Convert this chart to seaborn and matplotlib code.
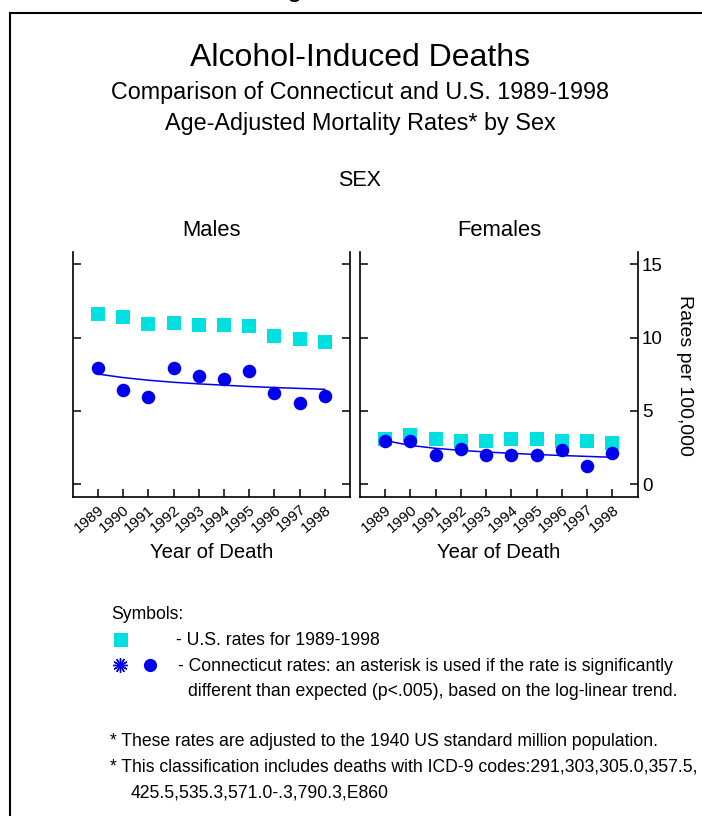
import matplotlib
matplotlib.use("Agg")
import matplotlib.pyplot as plt
import matplotlib.transforms as mtransforms
import pandas as pd
import seaborn as sns

# ---- data -------------------------------------------------------------
years = [1989, 1990, 1991, 1992, 1993, 1994, 1995, 1996, 1997, 1998]
year_labels = [str(y) for y in years]

male_us = [11.59, 11.38, 10.91, 11.00, 10.88, 10.88, 10.79, 10.09, 9.88, 9.68]
male_ct = [7.91, 6.41, 5.95, 7.91, 7.36, 7.20, 7.74, 6.22, 5.52, 6.04]
male_trend = [7.52, 7.28, 7.10, 6.96, 6.85, 6.76, 6.67, 6.60, 6.54, 6.48]

female_us = [3.10, 3.38, 3.07, 2.97, 2.97, 3.07, 3.07, 2.97, 2.95, 2.79]
female_ct = [2.95, 2.95, 2.02, 2.41, 1.98, 1.98, 1.98, 2.36, 1.27, 2.11]
female_trend = [2.98, 2.65, 2.45, 2.31, 2.20, 2.11, 2.03, 1.96, 1.90, 1.84]

panels = ["Males", "Females"]
y_ticks = [0, 5, 10, 15]

df = pd.concat([
    pd.DataFrame({"sex": "Males", "year": years, "us": male_us,
                  "ct": male_ct, "trend": male_trend}),
    pd.DataFrame({"sex": "Females", "year": years, "us": female_us,
                  "ct": female_ct, "trend": female_trend}),
])

# ---- style ------------------------------------------------------------
sns.set_theme(style="white")
plt.rcParams["font.family"] = ["Liberation Sans", "DejaVu Sans"]
for key in ["text.color", "axes.labelcolor", "xtick.color", "ytick.color"]:
    plt.rcParams[key] = "black"

CYAN = "#00E0E0"
BLUE = "#0000EE"
W, H = 702, 816

fig = plt.figure(figsize=(W / 100, H / 100), dpi=100)

# pixel-space overlay for frame, titles and notes
ov = fig.add_axes([0, 0, 1, 1], zorder=0)
ov.set_xlim(0, W)
ov.set_ylim(H, 0)
ov.axis("off")

ov.plot([10, 10, W + 5], [H + 5, 13, 13], color="black", lw=1.5,
        solid_joinstyle="miter", clip_on=False)
fig.text(295 / W, 1 + 4 / H, "g", fontsize=20, ha="center", va="baseline")

ov.text(360, 66, "Alcohol-Induced Deaths", fontsize=23, ha="center", va="baseline")
ov.text(360, 99, "Comparison of Connecticut and U.S. 1989-1998", fontsize=16.8,
        ha="center", va="baseline")
ov.text(360, 130, "Age-Adjusted Mortality Rates* by Sex", fontsize=16.8,
        ha="center", va="baseline")
ov.text(360, 186, "SEX", fontsize=15.5, ha="center", va="baseline")


def px_axes(x0, y0, x1, y1):
    return fig.add_axes([x0 / W, 1 - y1 / H, (x1 - x0) / W, (y1 - y0) / H], zorder=2)


boxes = {"Males": (72.7, 252, 350, 496.7), "Females": (360, 252, 637.7, 496.7)}
title_x = {"Males": 212, "Females": 499}

for sex in panels:
    ax = px_axes(*boxes[sex])
    ax.patch.set_alpha(0)
    sub = df[df["sex"] == sex]
    sns.scatterplot(data=sub, x="year", y="us", marker="s", color=CYAN, s=105,
                    linewidth=0, ax=ax, zorder=3)
    sns.lineplot(data=sub, x="year", y="trend", color=BLUE, lw=1.1, ax=ax, zorder=4)
    sns.scatterplot(data=sub, x="year", y="ct", marker="o", color=BLUE, s=95,
                    linewidth=0, ax=ax, zorder=5)

    ax.set_xlim(1988, 1999)
    ax.set_ylim(-0.85, 15.85)
    ax.set_xticks(years)
    ax.set_xticklabels(year_labels, rotation=40, ha="right", va="top",
                       rotation_mode="anchor", fontsize=11)
    offset = mtransforms.ScaledTranslation(6 / 100, 0, fig.dpi_scale_trans)
    for lab in ax.get_xticklabels():
        lab.set_transform(lab.get_transform() + offset)
    ax.set_yticks(y_ticks)
    ax.set_xlabel("")
    ax.set_ylabel("")
    for side in ["left", "right", "bottom"]:
        ax.spines[side].set_visible(True)
        ax.spines[side].set_color("black")
        ax.spines[side].set_linewidth(1.2)
    ax.spines["top"].set_visible(False)
    ax.tick_params(axis="x", direction="in", length=6, width=1.1, color="black",
                   bottom=True, top=False, pad=4, labelcolor="black")
    ax.tick_params(axis="y", direction="in", length=6, width=1.1, color="black",
                   left=True, right=True, labelleft=False,
                   labelright=(sex == "Females"), pad=3, labelsize=13.5,
                   labelcolor="black")

    ov.text(title_x[sex], 236, sex, fontsize=15.8, ha="center", va="baseline")
    ov.text(title_x[sex], 558, "Year of Death", fontsize=14.6, ha="center",
            va="baseline")

ov.text(684, 375, "Rates per 100,000", fontsize=14, rotation=270,
        ha="center", va="center")

# symbol key and footnotes
note_fs = 12.7
ov.text(111, 619, "Symbols:", fontsize=note_fs, va="baseline")
ov.plot([121], [640], marker="s", ms=9.5, color=CYAN, mew=0, ls="none")
ov.text(176, 645, "- U.S. rates for 1989-1998", fontsize=note_fs, va="baseline")
ov.plot([120], [665], marker=(12, 2, 0), ms=10.5, color=BLUE, mew=1.0, ls="none")
ov.plot([150], [665], marker="o", ms=9.5, color=BLUE, mew=0, ls="none")
ov.text(178, 671, "- Connecticut rates: an asterisk is used if the rate is significantly",
        fontsize=note_fs, va="baseline")
ov.text(188, 696, "different than expected (p<.005), based on the log-linear trend.",
        fontsize=note_fs, va="baseline")
ov.text(110, 746, "* These rates are adjusted to the 1940 US standard million population.",
        fontsize=note_fs, va="baseline")
ov.text(110, 772, "* This classification includes deaths with ICD-9 codes:291,303,305.0,357.5,",
        fontsize=note_fs, va="baseline")
ov.text(131, 797, "425.5,535.3,571.0-.3,790.3,E860", fontsize=note_fs, va="baseline")

fig.savefig("out.png", dpi=100, facecolor="white")
